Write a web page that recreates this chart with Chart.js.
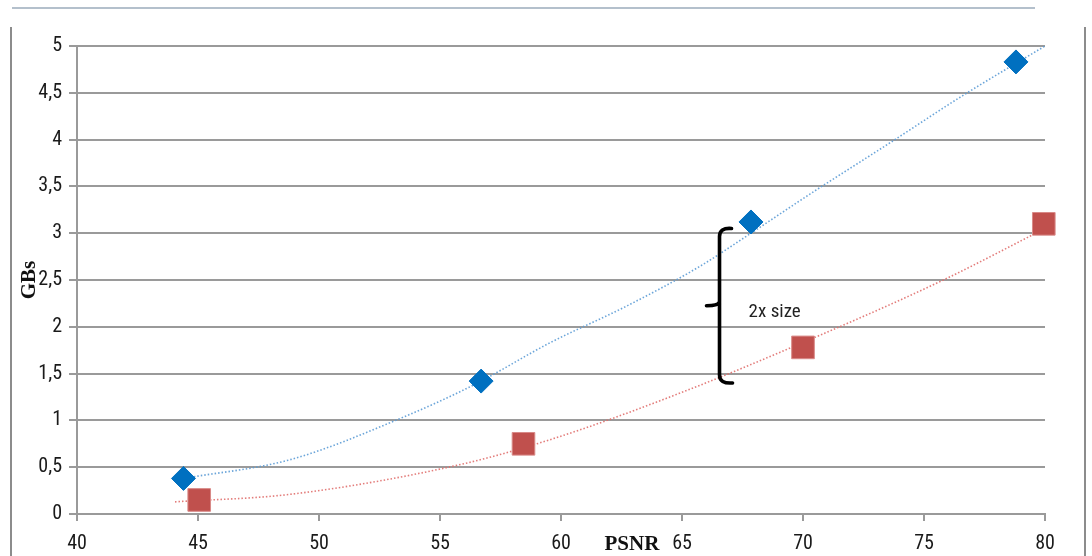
<!DOCTYPE html>
<html><head><meta charset="utf-8">
<script src="https://cdn.jsdelivr.net/npm/chart.js@4.4.1/dist/chart.umd.min.js"></script>
<style>
html,body{margin:0;padding:0;background:#fff;}
#wrap{position:relative;width:1092px;height:556px;overflow:hidden;}
canvas{position:absolute;left:0;top:0;}
.frameTop{position:absolute;left:12px;top:7px;width:1023px;height:2px;background:#b4c0cc;}
.frameL{position:absolute;left:10px;top:27px;width:2px;height:529px;background:#8c8c8c;}
.frameR{position:absolute;left:1084px;top:27px;width:2px;height:529px;background:#8c8c8c;}
</style></head>
<body>
<div id="wrap">
<canvas id="c" width="1092" height="556"></canvas>
<div class="frameTop"></div><div class="frameL"></div><div class="frameR"></div>
</div>
<script>
// ---- data ----
const blueX = [44.4, 56.7, 67.85, 78.8];
const blueY = [0.38, 1.42, 3.12, 4.83];
const redX = [45.05, 58.45, 70.0, 79.95];
const redY = [0.15, 0.75, 1.78, 3.10];
const blueTrendX = [44.4, 48.8, 53.35, 56.4, 59.55, 62.7, 65.7, 67.85, 70.3, 73.5, 76.6, 80];
const blueTrendY = [0.38, 0.58, 1.02, 1.38, 1.83, 2.22, 2.64, 3.0, 3.42, 3.95, 4.47, 5.0];
const redTrendX = [44.05, 48.8, 55.7, 59.5, 64.9, 70.7, 75.8, 80];
const redTrendY = [0.13, 0.21, 0.52, 0.79, 1.29, 1.91, 2.5, 3.05];
const xTickLabels = [40, 45, 50, 55, 60, 65, 70, 75, 80];
const yTickLabels = [0, 0.5, 1, 1.5, 2, 2.5, 3, 3.5, 4, 4.5, 5];
const xTitle = "PSNR";
const yTitle = "GBs";
const bracketNote = "2x size";
const bracketX = 66.55, bracketLow = 1.40, bracketHigh = 3.05, noteX = 67.75, noteY = 2.16;
const xTitlePos = 62.93, yTitlePos = 2.5;

const pts = (xs, ys) => xs.map((x, i) => ({x: x, y: ys[i]}));

const condFam = "'Liberation Sans Narrow','Roboto Condensed','DejaVu Sans Condensed',sans-serif";
const tickFont = {family: condFam, size: 20};

const annot = {
  id: 'annot',
  afterDatasetsDraw(chart) {
    const ctx = chart.ctx, xs = chart.scales.x, ys = chart.scales.y;
    ctx.save();
    // bracket
    const bx = xs.getPixelForValue(bracketX);
    const yt = ys.getPixelForValue(bracketHigh), yb = ys.getPixelForValue(bracketLow);
    const ym = (yt + yb) / 2;
    ctx.strokeStyle = '#000'; ctx.lineWidth = 3.6; ctx.lineCap = 'round';
    ctx.beginPath();
    ctx.moveTo(bx + 12, yt);
    ctx.quadraticCurveTo(bx, yt - 1, bx, yt + 8);
    ctx.lineTo(bx, ym - 4);
    ctx.quadraticCurveTo(bx - 1, ym, bx - 13, ym);
    ctx.moveTo(bx, ym - 4);
    ctx.lineTo(bx, yb - 8);
    ctx.quadraticCurveTo(bx, yb + 1, bx + 13, yb);
    ctx.stroke();
    // note
    ctx.fillStyle = '#222';
    ctx.font = "19px " + condFam;
    ctx.textAlign = 'left'; ctx.textBaseline = 'middle';
    ctx.fillText(bracketNote, xs.getPixelForValue(noteX), ys.getPixelForValue(noteY));
    // axis titles
    ctx.fillStyle = '#111';
    ctx.font = "bold 21px 'Liberation Serif','DejaVu Serif',serif";
    ctx.textAlign = 'center';
    ctx.fillText(xTitle, xs.getPixelForValue(xTitlePos), ys.bottom + 31);
    ctx.save();
    ctx.translate(xs.left - 47, ys.getPixelForValue(yTitlePos));
    ctx.rotate(-Math.PI / 2);
    ctx.fillText(yTitle, 0, 0);
    ctx.restore();
    ctx.restore();
  }
};

new Chart(document.getElementById('c'), {
  type: 'scatter',
  data: {
    datasets: [
      {data: pts(blueX, blueY), pointStyle: 'rectRot', pointRadius: 12, pointHoverRadius: 12,
       backgroundColor: '#0070c0', borderColor: '#0070c0', borderWidth: 1, order: 0, clip: false},
      {data: pts(redX, redY), pointStyle: 'rect', pointRadius: 16, pointHoverRadius: 16,
       backgroundColor: '#c0504d', borderColor: '#d98a88', borderWidth: 1, order: 0, clip: false},
      {type: 'line', data: pts(blueTrendX, blueTrendY), showLine: true, pointRadius: 0,
       borderColor: 'rgba(91,155,213,0.9)', borderWidth: 1.6, borderDash: [1.5, 2],
       cubicInterpolationMode: 'monotone', fill: false, order: 1},
      {type: 'line', data: pts(redTrendX, redTrendY), showLine: true, pointRadius: 0,
       borderColor: 'rgba(224,110,108,0.9)', borderWidth: 1.6, borderDash: [1.5, 2],
       cubicInterpolationMode: 'monotone', fill: false, order: 1}
    ]
  },
  options: {
    responsive: false, animation: false, devicePixelRatio: 1,
    layout: {padding: {left: 0, right: 47, top: 46, bottom: 0}},
    plugins: {legend: {display: false}, tooltip: {enabled: false}},
    scales: {
      x: {
        type: 'linear', min: 40, max: 80,
        afterBuildTicks: s => { s.ticks = xTickLabels.map(v => ({value: v})); },
        afterFit: s => { s.height = 42; },
        ticks: {font: tickFont, color: '#1a1a1a', padding: 11, maxRotation: 0, autoSkip: false},
        grid: {drawOnChartArea: false, drawTicks: true, tickLength: 7, color: '#9a9a9a', lineWidth: 2},
        border: {display: true, color: '#9a9a9a', width: 2}
      },
      y: {
        type: 'linear', min: 0, max: 5,
        afterBuildTicks: s => { s.ticks = yTickLabels.map(v => ({value: v})); },
        afterFit: s => { s.width = 77; },
        ticks: {font: tickFont, color: '#1a1a1a', padding: 7,
                callback: v => String(v).replace('.', ',')},
        grid: {drawTicks: true, tickLength: 8, color: '#9a9a9a', lineWidth: 2},
        border: {display: true, color: '#9a9a9a', width: 2}
      }
    }
  },
  plugins: [annot]
});
</script>
</body></html>
